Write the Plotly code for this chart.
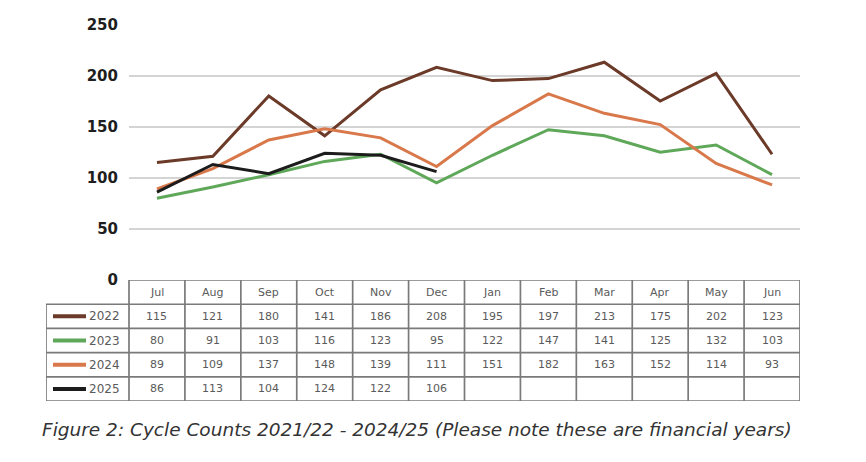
import plotly.graph_objects as go

months = ["Jul", "Aug", "Sep", "Oct", "Nov", "Dec", "Jan", "Feb", "Mar", "Apr", "May", "Jun"]
years = ["2022", "2023", "2024", "2025"]
v2022 = [115, 121, 180, 141, 186, 208, 195, 197, 213, 175, 202, 123]
v2023 = [80, 91, 103, 116, 123, 95, 122, 147, 141, 125, 132, 103]
v2024 = [89, 109, 137, 148, 139, 111, 151, 182, 163, 152, 114, 93]
v2025 = [86, 113, 104, 124, 122, 106]
colors = ["#6b3a28", "#5fa85a", "#d9784a", "#1c1c1c"]
y_ticks = [0, 50, 100, 150, 200, 250]
caption = "Figure 2: Cycle Counts 2021/22 - 2024/25 (Please note these are financial years)"

series = [v2022, v2023, v2024, v2025]

W, H = 866, 462
plot_l, plot_r = 129, 800
plot_t, plot_b = 16, 282
tab_l, tab_b = 46, 408
cap_y = 438
col_w = (plot_r - plot_l) / len(months)
leg_w = (plot_l - tab_l) / col_w  # legend column width in column units

FONT = "DejaVu Sans, sans-serif"

fig = go.Figure()
for name, vals, c in zip(years, series, colors):
    fig.add_trace(go.Scatter(x=months[:len(vals)], y=vals, mode="lines", name=name,
                             line=dict(color=c, width=3), xaxis="x", yaxis="y",
                             showlegend=False))

# invisible trace to anchor the table subplot
fig.add_trace(go.Scatter(x=[0], y=[0], mode="markers", marker=dict(opacity=0),
                         xaxis="x2", yaxis="y2", showlegend=False, hoverinfo="skip"))

nrows = len(years) + 1
x0 = -0.5 - leg_w
shapes = []
border = dict(color="#7a7a7a", width=1.7)
shapes.append(dict(type="line", xref="x2", yref="y2", x0=-0.5, x1=len(months) - 0.5, y0=0, y1=0, line=border))
for r in range(1, nrows + 1):
    shapes.append(dict(type="line", xref="x2", yref="y2", x0=x0, x1=len(months) - 0.5, y0=r, y1=r, line=border))
shapes.append(dict(type="line", xref="x2", yref="y2", x0=x0, x1=x0, y0=1, y1=nrows, line=border))
for i in range(len(months) + 1):
    shapes.append(dict(type="line", xref="x2", yref="y2", x0=i - 0.5, x1=i - 0.5, y0=0, y1=nrows, line=border))

annotations = []
cell_font = dict(family=FONT, size=11, color="#5a5a5a")
for i, m in enumerate(months):
    annotations.append(dict(x=i, y=0.5, xref="x2", yref="y2", text=m, showarrow=False, font=cell_font))
for r, (name, vals, c) in enumerate(zip(years, series, colors), start=1):
    for i, v in enumerate(vals):
        annotations.append(dict(x=i, y=r + 0.5, xref="x2", yref="y2", text=str(v), showarrow=False, font=cell_font))
    lx0 = x0 + 7 / col_w
    lx1 = x0 + 40 / col_w
    shapes.append(dict(type="line", xref="x2", yref="y2", x0=lx0, x1=lx1, y0=r + 0.5, y1=r + 0.5,
                       line=dict(color=c, width=4)))
    annotations.append(dict(x=lx1 + 1 / col_w, y=r + 0.5, xref="x2", yref="y2", text=name, showarrow=False,
                            xanchor="left", font=dict(family=FONT, size=12, color="#5a5a5a")))

annotations.append(dict(x=417 / W, y=(H - cap_y) / H, xref="paper", yref="paper", text="<i>" + caption + "</i>",
                        showarrow=False, yanchor="middle", xanchor="center",
                        font=dict(family=FONT, size=18.5, color="#333333")))

fig.update_layout(
    width=W, height=H,
    margin=dict(l=0, r=0, t=0, b=0),
    paper_bgcolor="white", plot_bgcolor="white",
    xaxis=dict(domain=[plot_l / W, plot_r / W], range=[-0.5, len(months) - 0.5], type="category",
               categoryorder="array", categoryarray=months, showticklabels=False, showgrid=False,
               zeroline=False, showline=False, anchor="y"),
    yaxis=dict(domain=[(H - plot_b) / H, (H - plot_t) / H], range=[0, 250], tickvals=y_ticks,
               showgrid=True, gridcolor="#d4d4d4", gridwidth=1.8, zeroline=False, showline=False,
               ticks="outside", ticklen=7, tickcolor="rgba(0,0,0,0)",
               tickfont=dict(family=FONT, size=15, color="#1e1e1e", weight="bold"),
               anchor="x"),
    xaxis2=dict(domain=[tab_l / W, plot_r / W], range=[x0, len(months) - 0.5], visible=False, anchor="y2"),
    yaxis2=dict(domain=[(H - tab_b) / H, (H - plot_b) / H], range=[nrows, 0], visible=False, anchor="x2"),
    shapes=shapes,
    annotations=annotations,
)

fig.write_html("out.html", config={"displayModeBar": False},
               post_script="document.body.style.margin='0';")
